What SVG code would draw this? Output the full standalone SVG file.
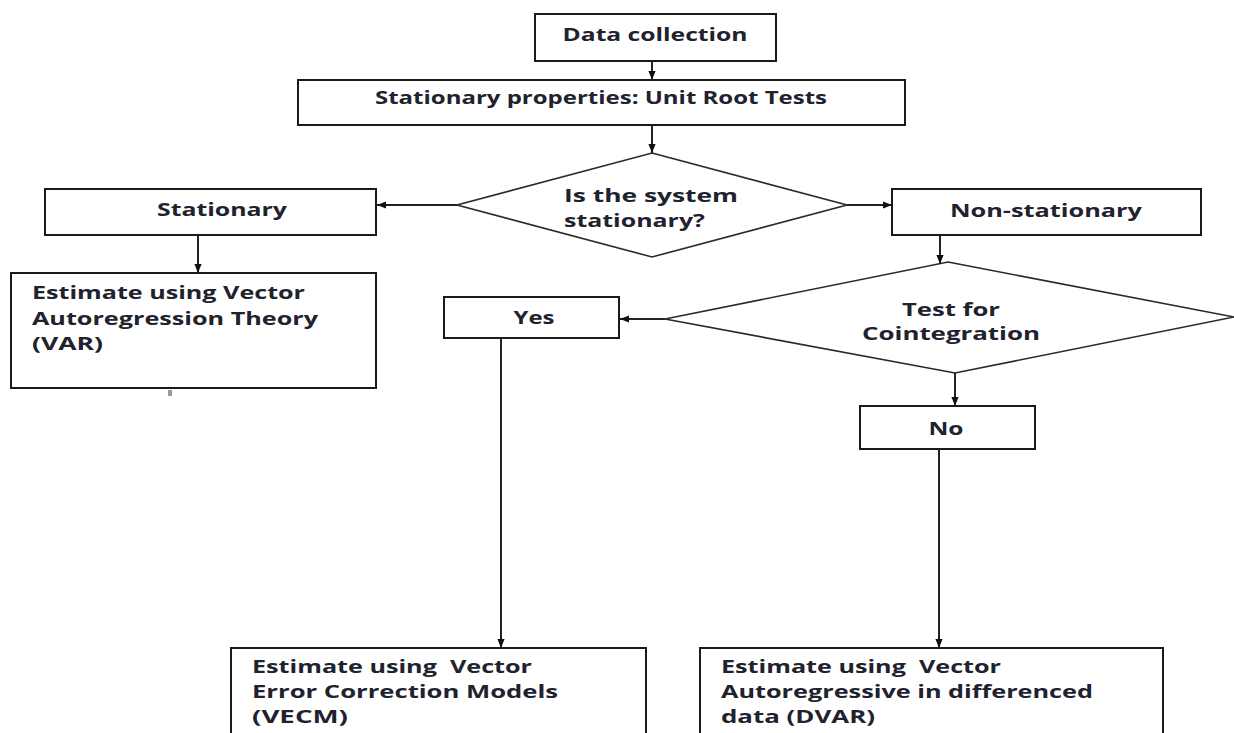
<svg xmlns="http://www.w3.org/2000/svg" width="1234" height="733" viewBox="0 0 1234 733">
<defs>
<marker id="ah" viewBox="0 0 10 10" refX="10" refY="5" markerWidth="9" markerHeight="9" markerUnits="userSpaceOnUse" orient="auto">
<path d="M0,1 L10,5 L0,9 Z" fill="#111"/>
</marker>
</defs>
<style>
.box{fill:#fff;stroke:#1a1a1a;stroke-width:2}
.dia{fill:#fff;stroke:#2a2a2a;stroke-width:1.6}
.t{font-family:"Open Sans","Liberation Sans",sans-serif;font-weight:700;font-size:18px;fill:#20232e}
.c{text-anchor:middle}
.con line{stroke:#222;stroke-width:2;fill:none}
</style>
<rect width="1234" height="733" fill="#fff"/>
<g id="data-collection">
<rect class="box" x="535" y="14" width="241" height="47"/>
<text class="t c" x="655" y="41" textLength="185" lengthAdjust="spacingAndGlyphs">Data collection</text>
</g>
<g id="unit-root">
<rect class="box" x="298" y="80" width="607" height="45"/>
<text class="t c" x="601" y="104" textLength="452" lengthAdjust="spacingAndGlyphs">Stationary properties: Unit Root Tests</text>
</g>
<g id="is-stationary">
<polygon class="dia" points="652,153 847,205 652,257 457,205"/>
<text class="t" x="564" y="202" textLength="174" lengthAdjust="spacingAndGlyphs">Is the system</text>
<text class="t" x="564" y="227" textLength="141" lengthAdjust="spacingAndGlyphs">stationary?</text>
</g>
<g id="stationary">
<rect class="box" x="45" y="189" width="331" height="46"/>
<text class="t c" x="222" y="216" textLength="130" lengthAdjust="spacingAndGlyphs">Stationary</text>
</g>
<g id="non-stationary">
<rect class="box" x="892" y="189" width="309" height="46"/>
<text class="t c" x="1046" y="217" textLength="192" lengthAdjust="spacingAndGlyphs">Non-stationary</text>
</g>
<g id="var">
<rect class="box" x="11" y="273" width="365" height="115"/>
<text class="t" x="32" y="299" textLength="273" lengthAdjust="spacingAndGlyphs">Estimate using Vector</text>
<text class="t" x="32" y="325" textLength="286" lengthAdjust="spacingAndGlyphs">Autoregression Theory</text>
<text class="t" x="32" y="350" textLength="71" lengthAdjust="spacingAndGlyphs">(VAR)</text>
</g>
<rect x="168" y="390" width="4" height="6" fill="#999"/>
<g id="cointegration">
<polygon class="dia" points="948,262 1234,317 955,373 665,319"/>
<text class="t c" x="951" y="316" textLength="98" lengthAdjust="spacingAndGlyphs">Test for</text>
<text class="t c" x="951" y="340" textLength="178" lengthAdjust="spacingAndGlyphs">Cointegration</text>
</g>
<g id="yes">
<rect class="box" x="444" y="297" width="175" height="41"/>
<text class="t c" x="534" y="324" textLength="41" lengthAdjust="spacingAndGlyphs">Yes</text>
</g>
<g id="no">
<rect class="box" x="860" y="406" width="175" height="43"/>
<text class="t c" x="946" y="435" textLength="35" lengthAdjust="spacingAndGlyphs">No</text>
</g>
<g id="vecm">
<rect class="box" x="231" y="648" width="415" height="100"/>
<text class="t" x="252" y="673" textLength="280" lengthAdjust="spacingAndGlyphs" xml:space="preserve">Estimate using  Vector</text>
<text class="t" x="252" y="698" textLength="306" lengthAdjust="spacingAndGlyphs">Error Correction Models</text>
<text class="t" x="252" y="723" textLength="96" lengthAdjust="spacingAndGlyphs">(VECM)</text>
</g>
<g id="dvar">
<rect class="box" x="700" y="648" width="463" height="100"/>
<text class="t" x="721" y="673" textLength="280" lengthAdjust="spacingAndGlyphs" xml:space="preserve">Estimate using  Vector</text>
<text class="t" x="721" y="698" textLength="372" lengthAdjust="spacingAndGlyphs">Autoregressive in differenced</text>
<text class="t" x="721" y="723" textLength="154" lengthAdjust="spacingAndGlyphs">data (DVAR)</text>
</g>
<g id="connectors" class="con">
<line x1="652" y1="61" x2="652" y2="80" marker-end="url(#ah)"/>
<line x1="652" y1="125" x2="652" y2="153" marker-end="url(#ah)"/>
<line x1="457" y1="205" x2="377" y2="205" marker-end="url(#ah)"/>
<line x1="847" y1="205" x2="892" y2="205" marker-end="url(#ah)"/>
<line x1="198" y1="235" x2="198" y2="273" marker-end="url(#ah)"/>
<line x1="940" y1="235" x2="940" y2="264" marker-end="url(#ah)"/>
<line x1="665" y1="319" x2="620" y2="319" marker-end="url(#ah)"/>
<line x1="955" y1="373" x2="955" y2="406" marker-end="url(#ah)"/>
<line x1="501" y1="338" x2="501" y2="648" marker-end="url(#ah)"/>
<line x1="939" y1="449" x2="939" y2="648" marker-end="url(#ah)"/>
</g>
</svg>
